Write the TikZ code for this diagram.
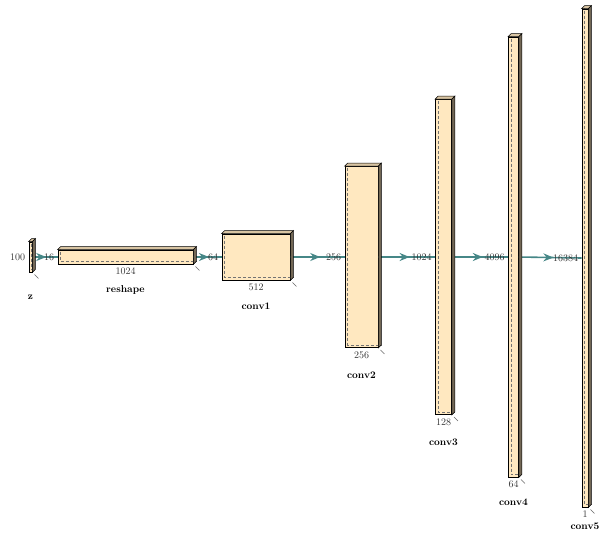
\documentclass[tikz,border=0pt]{standalone}
\usetikzlibrary{positioning,arrows.meta,decorations.markings}

\definecolor{convfill}{RGB}{255,232,192}
\definecolor{edgecol}{RGB}{70,135,135}

% top and right faces of a layer box, plus the hidden back edges
\newcommand{\boxdepth}[1]{%
    \draw[black!55, densely dashed, semithick] ([shift={(3pt,3pt)}]#1.north west) -- ([shift={(3pt,3pt)}]#1.south west) -- ([shift={(3pt,3pt)}]#1.south east);
    \draw[semithick, fill=convfill!85!black] (#1.north west) -- ++(3pt,3pt) -- ([shift={(3pt,3pt)}]#1.north east) -- (#1.north east) -- cycle;
    \draw[semithick, fill=convfill!45!black] (#1.north east) -- ++(3pt,3pt) -- ([shift={(3pt,3pt)}]#1.south east) -- (#1.south east) -- cycle;
    \draw[deptick] ([shift={(2pt,-2pt)}]#1.south east) -- ++(4pt,-4pt);
}

\begin{document}
\begin{tikzpicture}[
        x=1pt, y=-1pt,
        layer/.style 2 args={rectangle, draw, thick, fill=convfill, inner sep=0pt, minimum width=#1pt, minimum height=#2pt},
        deptick/.style={draw=black!60, thin},
        lbl/.style={font=\normalsize, text=black!80},
        capt/.style={font=\bfseries},
        conn/.style={draw=edgecol, line width=1.6pt,
            decoration={markings, mark=at position 0.55 with {\arrow{Stealth[length=10pt, width=8pt]}}},
            postaction=decorate}
    ]
        \useasboundingbox (0,0) rectangle (613,533);

        % layers
        \node[layer={3}{30}] (z) at (30.5,257) {};
        \node[layer={135}{14}] (reshape) at (125.5,257) {};
        \node[layer={68}{46}] (conv1) at (256,257) {};
        \node[layer={33}{181}] (conv2) at (361.5,257) {};
        \node[layer={16}{315}] (conv3) at (443.5,257) {};
        \node[layer={10}{440}] (conv4) at (513.5,257) {};
        \node[layer={6}{498}] (conv5) at (585,258) {};

        % connections
        \draw[conn] (z.east) -- (reshape.west);
        \draw[conn] (reshape.east) -- (conv1.west);
        \draw[conn] (conv1.east) -- (conv2.west);
        \draw[conn] (conv2.east) -- (conv3.west);
        \draw[conn] (conv3.east) -- (conv4.west);
        \draw[conn] (conv4.east) -- (conv5.west);

        \boxdepth{z}
        \boxdepth{reshape}
        \boxdepth{conv1}
        \boxdepth{conv2}
        \boxdepth{conv3}
        \boxdepth{conv4}
        \boxdepth{conv5}

        % input sizes
        \node[lbl, left=0pt of z.west] (z-in) {100};
        \node[lbl, left=0pt of reshape.west] (reshape-in) {16};
        \node[lbl, left=0pt of conv1.west] (conv1-in) {64};
        \node[lbl, left=0pt of conv2.west] (conv2-in) {256};
        \node[lbl, left=0pt of conv3.west] (conv3-in) {1024};
        \node[lbl, left=0pt of conv4.west] (conv4-in) {4096};
        \node[lbl, left=0pt of conv5.west] (conv5-in) {16384};

        % channels
        \node[lbl, below=0pt of reshape.south] (reshape-ch) {1024};
        \node[lbl, below=0pt of conv1.south] (conv1-ch) {512};
        \node[lbl, below=0pt of conv2.south] (conv2-ch) {256};
        \node[lbl, below=0pt of conv3.south] (conv3-ch) {128};
        \node[lbl, below=0pt of conv4.south] (conv4-ch) {64};
        \node[lbl, below=0pt of conv5.south] (conv5-ch) {1};

        % captions
        \node[capt] (z-cap) at ([yshift=-25pt]z.south) {z};
        \node[capt] (reshape-cap) at ([yshift=-26pt]reshape.south) {reshape};
        \node[capt] (conv1-cap) at ([yshift=-26pt]conv1.south) {conv1};
        \node[capt] (conv2-cap) at ([yshift=-27pt]conv2.south) {conv2};
        \node[capt] (conv3-cap) at ([yshift=-27pt]conv3.south) {conv3};
        \node[capt] (conv4-cap) at ([yshift=-25pt]conv4.south) {conv4};
        \node[capt] (conv5-cap) at ([yshift=-19pt]conv5.south) {conv5};
    \end{tikzpicture}
\end{document}
